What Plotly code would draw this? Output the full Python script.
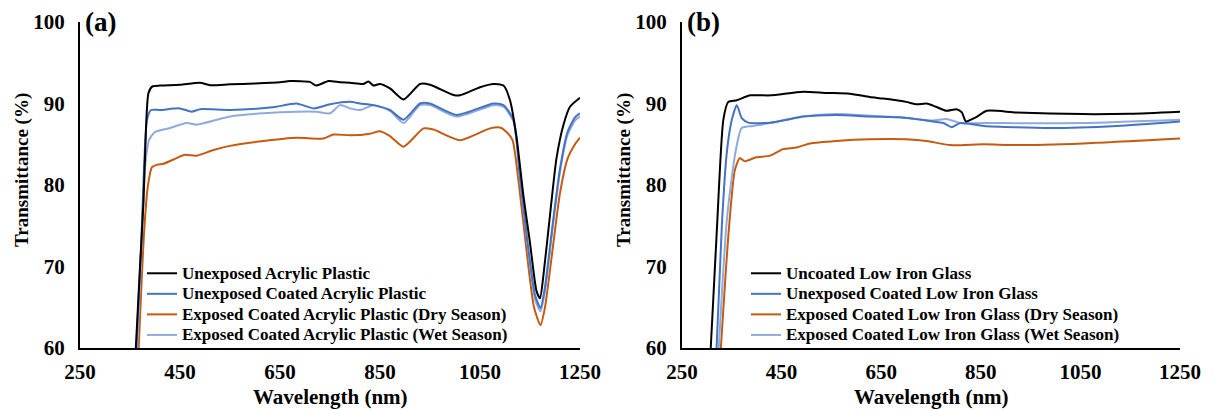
import plotly.graph_objects as go

W, H = 1215, 410

# ---------------- Panel (a): acrylic plastic ----------------
a_black_wl = [360, 370, 377, 382, 387, 395, 410, 450, 490, 510, 550, 600, 650, 670, 710, 722, 747, 770, 790,
              817, 827, 837, 850, 870, 897, 930, 950, 997, 1010, 1050, 1077, 1097, 1110, 1123, 1137, 1150,
              1163, 1170, 1177, 1190, 1203, 1217, 1230, 1250]
a_black_t = [58, 70, 78, 87, 91.3, 92.1, 92.2, 92.3, 92.55, 92.25, 92.35, 92.45, 92.6, 92.75, 92.65, 92.2,
             92.75, 92.6, 92.55, 92.4, 92.7, 92.2, 92.4, 91.85, 90.5, 92.4, 92.3, 91.05, 91.0, 92.0, 92.4,
             92.2, 90.4, 85.9, 78.6, 72.9, 67.0, 66.1, 69.0, 76.3, 83.3, 87.4, 89.6, 90.7]

a_blue_wl = [361, 372, 378, 384, 392, 410, 450, 473, 490, 550, 630, 643, 683, 717, 750, 790, 810, 837, 870,
             897, 930, 950, 1003, 1077, 1097, 1117, 1130, 1145, 1160, 1171, 1180, 1195, 1210, 1225, 1240, 1250]
a_blue_t = [58, 72, 82, 88, 89.2, 89.2, 89.4, 89.0, 89.3, 89.2, 89.5, 89.6, 90.0, 89.4, 89.9, 90.2, 90.0,
            89.8, 89.2, 88.0, 90.0, 90.0, 88.6, 90.0, 89.8, 88.0, 81.0, 73.0, 66.5, 64.9, 67.5, 75.0, 82.0,
            86.5, 88.3, 88.8]

a_dry_wl = [366, 378, 386, 394, 405, 417, 443, 460, 483, 517, 550, 617, 683, 737, 757, 790, 830, 850, 870,
            897, 937, 957, 1010, 1070, 1090, 1103, 1115, 1128, 1143, 1158, 1171, 1180, 1195, 1210, 1225,
            1240, 1250]
a_dry_t = [58, 74, 80, 82.2, 82.5, 82.6, 83.3, 83.7, 83.6, 84.3, 84.8, 85.4, 85.8, 85.7, 86.2, 86.1, 86.3,
           86.6, 86.0, 84.7, 86.95, 86.8, 85.5, 86.95, 87.05, 86.5, 85.5, 80.0, 72.0, 65.0, 62.8, 65.0, 72.0,
           79.0, 83.2, 85.0, 85.8]

a_wet_wl = [363, 374, 380, 388, 400, 430, 463, 483, 550, 617, 683, 723, 750, 770, 790, 810, 837, 870, 897,
            930, 950, 1003, 1077, 1097, 1117, 1130, 1145, 1160, 1171, 1180, 1195, 1210, 1225, 1240, 1250]
a_wet_t = [58, 74, 82, 85.5, 86.5, 87.0, 87.6, 87.4, 88.4, 88.8, 89.0, 89.0, 88.8, 89.8, 89.4, 89.2, 89.8,
           89.1, 87.6, 89.8, 89.8, 88.4, 89.8, 89.6, 87.8, 80.7, 72.7, 66.0, 64.5, 67.0, 74.6, 81.6, 86.1,
           87.9, 88.4]

a_names = ["Unexposed Acrylic Plastic", "Unexposed Coated Acrylic Plastic",
           "Exposed Coated Acrylic Plastic (Dry Season)", "Exposed Coated Acrylic Plastic (Wet Season)"]

# ---------------- Panel (b): low iron glass ----------------
b_black_wl = [306, 320, 333, 343, 360, 387, 427, 493, 540, 587, 627, 654, 700, 721, 741, 760, 781, 801, 812,
              820, 840, 862, 922, 1055, 1150, 1250]
b_black_t = [58, 74.5, 88.0, 90.2, 90.4, 91.0, 91.0, 91.45, 91.3, 91.2, 90.8, 90.6, 90.2, 89.9, 90.0, 89.6,
             89.1, 89.3, 88.9, 87.8, 88.3, 89.1, 88.9, 88.7, 88.75, 89.0]

b_blue_wl = [318, 330, 340, 350, 360, 370, 383, 427, 460, 493, 560, 627, 687, 754, 775, 792, 809, 856, 989,
             1123, 1250]
b_blue_t = [58, 75, 84.0, 88.0, 89.8, 88.2, 87.65, 87.65, 88.0, 88.4, 88.6, 88.4, 88.3, 87.8, 87.6, 87.1,
            87.6, 87.25, 87.0, 87.25, 87.8]

b_dry_wl = [326, 343, 356, 366, 376, 386, 399, 427, 453, 480, 507, 560, 627, 700, 741, 788, 856, 922, 1055, 1250]
b_dry_t = [58, 73.7, 81.8, 83.3, 82.9, 83.1, 83.4, 83.6, 84.4, 84.6, 85.1, 85.4, 85.6, 85.6, 85.4, 84.9,
           85.0, 84.9, 85.1, 85.7]

b_wet_wl = [322, 340, 357, 370, 393, 427, 493, 560, 627, 687, 754, 781, 809, 856, 1055, 1250]
b_wet_t = [58, 75.7, 83.9, 87.0, 87.25, 87.6, 88.4, 88.7, 88.5, 88.3, 87.9, 88.1, 87.6, 87.6, 87.6, 88.0]

b_names = ["Uncoated Low Iron Glass", "Unexposed Coated Low Iron Glass",
           "Exposed Coated Low Iron Glass (Dry Season)", "Exposed Coated Low Iron Glass (Wet Season)"]

x_ticks = [250, 450, 650, 850, 1050, 1250]
y_ticks = [60, 70, 80, 90, 100]
x_title = "Wavelength (nm)"
y_title = "Transmittance (%)"

colors = ["#000000", "#4472C4", "#C55A11", "#8FAADC"]
FONT = "Liberation Serif"
LEG_SIZE = 17

fig = go.Figure()

a_series = [(a_black_wl, a_black_t), (a_blue_wl, a_blue_t), (a_dry_wl, a_dry_t), (a_wet_wl, a_wet_t)]
b_series = [(b_black_wl, b_black_t), (b_blue_wl, b_blue_t), (b_dry_wl, b_dry_t), (b_wet_wl, b_wet_t)]


def label(s):
    return f"<span style='font-size:{LEG_SIZE}px'>{s}</span>"


# draw order: dry, wet, blue, black so darker lines sit on top
order = [2, 3, 1, 0]
for i in order:
    wl, t = a_series[i]
    fig.add_trace(go.Scatter(x=wl, y=t, mode="lines", name=label(a_names[i]),
                             line=dict(color=colors[i], width=2, shape="spline", smoothing=0.6),
                             xaxis="x", yaxis="y", legend="legend", legendrank=i + 1))
for i in order:
    wl, t = b_series[i]
    fig.add_trace(go.Scatter(x=wl, y=t, mode="lines", name=label(b_names[i]),
                             line=dict(color=colors[i], width=2, shape="spline", smoothing=0.6),
                             xaxis="x2", yaxis="y2", legend="legend2", legendrank=i + 1))

ya = (H - 348) / H
yb = (H - 22) / H

axis_font = dict(family=FONT, size=21, color="black", weight="bold")


def xax(domain, anchor):
    return dict(domain=domain, anchor=anchor, range=[250, 1250], tickvals=x_ticks,
                showline=True, linecolor="black", linewidth=2, showgrid=False, zeroline=False,
                ticks="", tickfont=axis_font, ticklabelstandoff=4, automargin=False)


def yax(anchor):
    return dict(domain=[ya, yb], anchor=anchor, range=[60, 100], tickvals=y_ticks,
                showline=True, linecolor="black", linewidth=2, showgrid=False, zeroline=False,
                ticks="", tickfont=axis_font, ticklabelstandoff=9, automargin=False)


leg_font = dict(family=FONT, size=13.5, color="black", weight="bold")


def ann(text, x, y, size, angle=0, xanchor="center"):
    return dict(text=text, x=x / W, y=(H - y) / H, xref="paper", yref="paper", xanchor=xanchor,
                yanchor="middle", showarrow=False, textangle=angle,
                font=dict(family=FONT, size=size, color="black", weight="bold"))


fig.update_layout(
    width=W, height=H,
    margin=dict(l=0, r=0, t=0, b=0),
    paper_bgcolor="white", plot_bgcolor="white",
    xaxis=xax([80 / W, 580 / W], "y"),
    yaxis=yax("x"),
    xaxis2=xax([682 / W, 1180 / W], "y2"),
    yaxis2=yax("x2"),
    legend=dict(x=142 / W, y=(H - 258) / H, xanchor="left", yanchor="top", font=leg_font,
                bgcolor="rgba(0,0,0,0)", itemwidth=30, tracegroupgap=0),
    legend2=dict(x=746 / W, y=(H - 258) / H, xanchor="left", yanchor="top", font=leg_font,
                 bgcolor="rgba(0,0,0,0)", itemwidth=30, tracegroupgap=0),
    annotations=[
        ann("(a)", 83, 22, 27, xanchor="left"),
        ann("(b)", 685, 22, 27, xanchor="left"),
        ann(x_title, 330, 397, 21),
        ann(x_title, 931, 397, 21),
        ann(y_title, 22, 170, 19, angle=-90),
        ann(y_title, 624, 170, 19, angle=-90),
    ],
)

fig.write_html("out.html", config={"displayModeBar": False},
               post_script="document.body.style.margin='0px';document.body.style.overflow='hidden';")
